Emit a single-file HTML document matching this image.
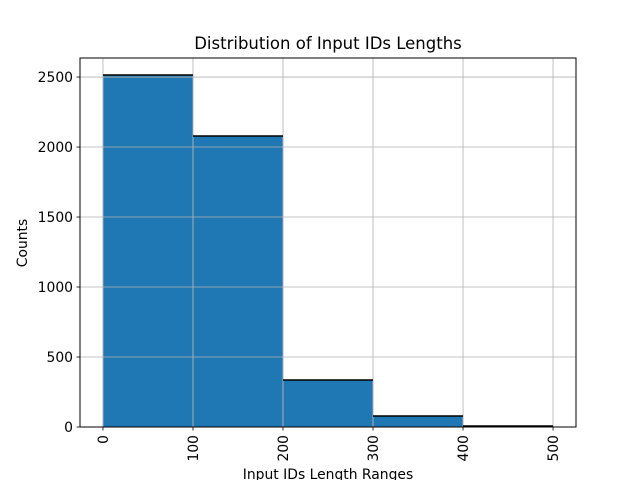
<!DOCTYPE html>
<html><head><meta charset="utf-8"><style>
body{margin:0;background:#fff}
svg text{font-family:"DejaVu Sans","Liberation Sans",sans-serif;fill:#000}
</style></head><body>
<svg id="chart" width="640" height="480">
<rect width="640" height="480" fill="#fff"/>
<g id="bars"></g><g id="grid"></g><g id="tops"></g><g id="axes"></g>
<text x="328" y="49" font-size="16.5" text-anchor="middle">Distribution of Input IDs Lengths</text>
<text x="328" y="479" font-size="13.9" text-anchor="middle">Input IDs Length Ranges</text>
<text transform="translate(27,243) rotate(-90)" font-size="13.9" text-anchor="middle">Counts</text>
</svg>
<script>
const binEdges=[0,100,200,300,400,500];
const counts=[2515,2079,336,79,7];
const xTicks=[0,100,200,300,400,500];
const yTicks=[0,500,1000,1500,2000,2500];
const L=80,R=576,T=58,B=427;
const xmin=-25.5,xmax=525.5,ymax=2636;
const X=v=>L+(v-xmin)/(xmax-xmin)*(R-L);
const Y=v=>B-v/ymax*(B-T);
const ns="http://www.w3.org/2000/svg";
function mk(p,tag,a){const e=document.createElementNS(ns,tag);for(const k in a)e.setAttribute(k,a[k]);document.getElementById(p).appendChild(e);return e;}
counts.forEach((c,i)=>{
 const x0=X(binEdges[i]),x1=X(binEdges[i+1]);
 const r=mk('bars','rect',{x:x0,y:Y(c),width:x1-x0,height:B-Y(c),fill:'#1f77b4',stroke:'#b0b0b0','stroke-width':0.8});
 
 
 const t=mk('tops','line',{x1:x0,x2:x1,y1:Y(c),y2:Y(c),stroke:'#000','stroke-width':1.5});
 
 
});
xTicks.forEach(v=>{
 const g=mk('grid','line',{x1:X(v),x2:X(v),y1:T,y2:B,stroke:'#b0b0b0','stroke-width':0.8});
 
 
 mk('axes','line',{x1:X(v),x2:X(v),y1:B,y2:B+3.5,stroke:'#000','stroke-width':0.8});
 const t=mk('axes','text',{transform:`translate(${X(v)+5},${B+8}) rotate(-90)`,'font-size':13.9,'text-anchor':'end'});
 t.textContent=v;
 
 
});
yTicks.forEach(v=>{
 const g=mk('grid','line',{x1:L,x2:R,y1:Y(v),y2:Y(v),stroke:'#b0b0b0','stroke-width':0.8});
 
 
 mk('axes','line',{x1:L-3.5,x2:L,y1:Y(v),y2:Y(v),stroke:'#000','stroke-width':0.8});
 const t=mk('axes','text',{x:L-7,y:Y(v)+5,'font-size':13.9,'text-anchor':'end'});
 t.textContent=v;
 
 
});
const f=mk('axes','rect',{x:L,y:T,width:R-L,height:B-T,fill:'none',stroke:'#000','stroke-width':1});


</script>
</body></html>
